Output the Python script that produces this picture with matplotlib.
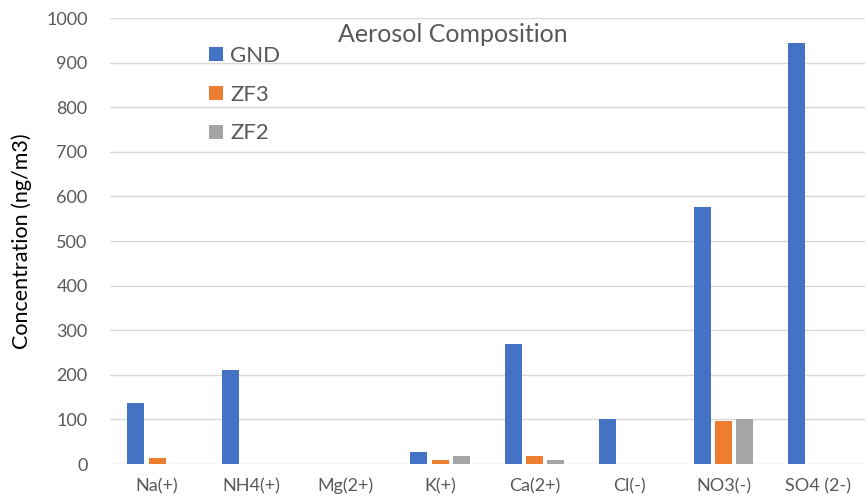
import numpy as np
import matplotlib.pyplot as plt

categories = ["Na(+)", "NH4(+)", "Mg(2+)", "K(+)", "Ca(2+)", "Cl(-)", "NO3(-)", "SO4 (2-)"]
gnd = [137, 211, 0, 27, 269, 100, 576, 944]
zf3 = [13, 0, 0, 10, 17, 0, 97, 0]
zf2 = [0, 0, 0, 18, 9, 0, 101, 0]

plt.rcParams["font.family"] = ["Lato", "DejaVu Sans"]

fig = plt.figure(figsize=(8.65, 4.96), dpi=100)
ax = fig.add_axes([0.127, 0.0645, 0.873, 0.8992])

x = np.arange(len(categories))
w = 0.18
ax.bar(x - 0.225, gnd, w, color="#4472C4", label="GND")
ax.bar(x, zf3, w, color="#ED7D31", label="ZF3")
ax.bar(x + 0.225, zf2, w, color="#A5A5A5", label="ZF2")

ax.set_xlim(-0.5, len(categories) - 0.5)
ax.set_ylim(0, 1000)
ax.set_yticks(np.arange(0, 1001, 100))
ax.set_xticks(x)
ax.set_xticklabels(categories)
ax.tick_params(axis="both", length=0, colors="#595959", labelsize=13)
ax.tick_params(axis="y", pad=16)
ax.tick_params(axis="x", pad=10)
ax.grid(axis="y", color="#D9D9D9", linewidth=1)
ax.set_axisbelow(True)
for s in ax.spines.values():
    s.set_visible(False)

ax.set_ylabel("Concentration (ng/m3)", fontsize=15.5, color="black", labelpad=10)
fig.text(0.523, 0.93, "Aerosol Composition", ha="center", va="center", fontsize=18, color="#595959")

leg = ax.legend(loc="upper left", bbox_to_anchor=(0.12, 0.958), frameon=False,
                fontsize=16, labelspacing=0.85, handlelength=0.6, handleheight=0.6,
                handletextpad=0.35, borderaxespad=0)
for t in leg.get_texts():
    t.set_color("#595959")

fig.savefig("out.png", dpi=100)
